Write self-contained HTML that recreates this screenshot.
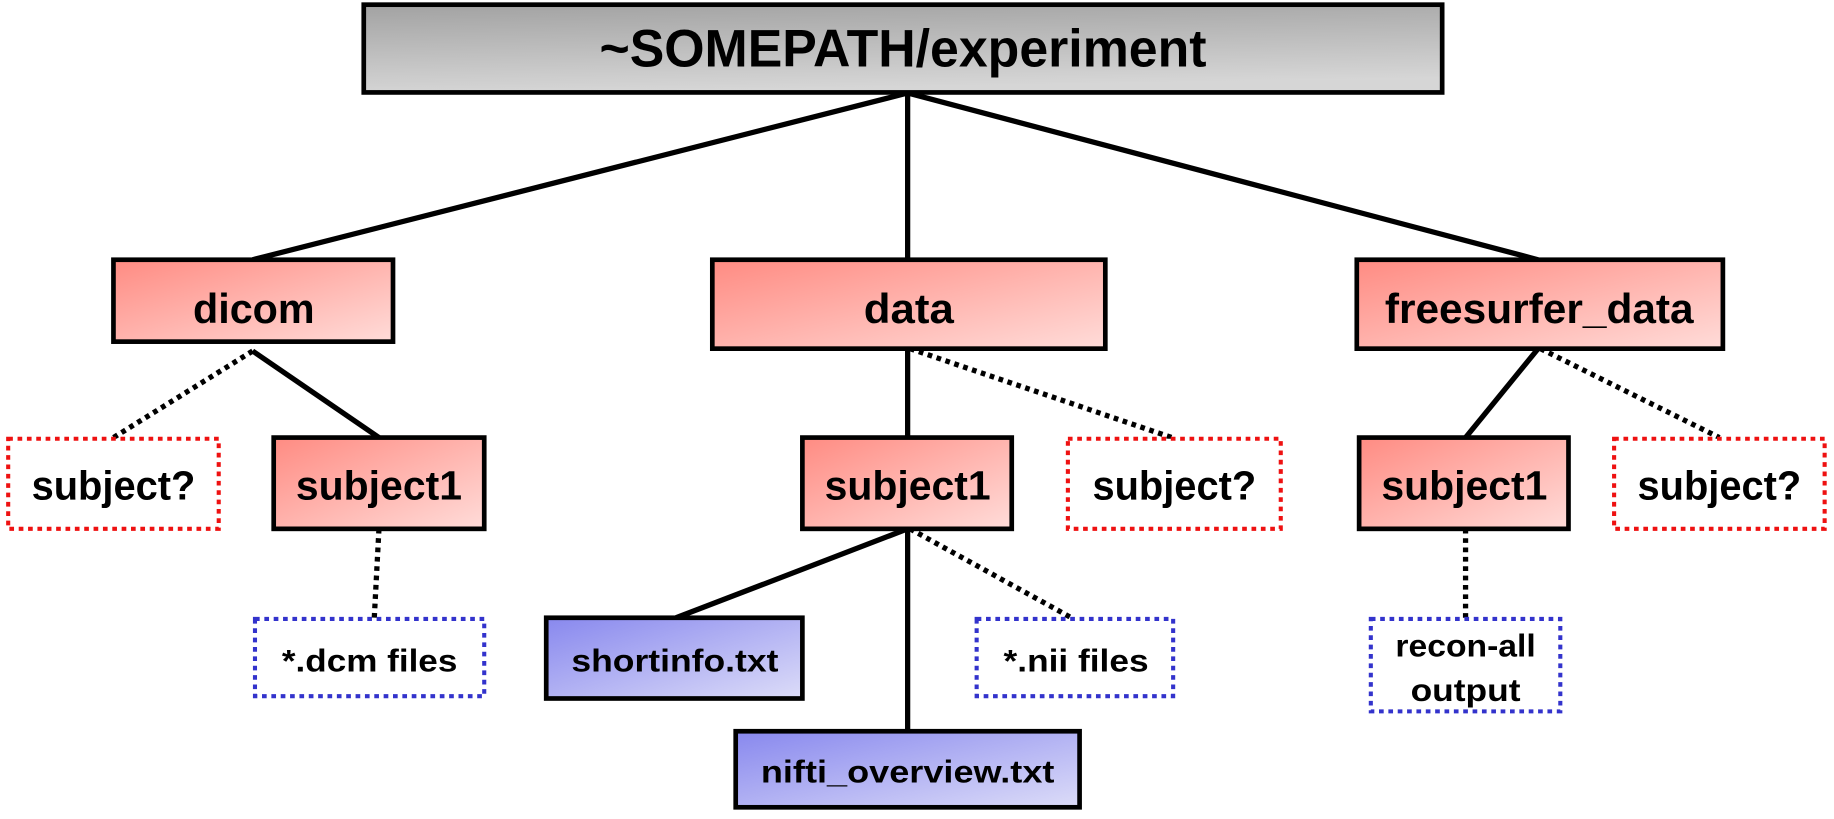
<!DOCTYPE html>
<html><head><meta charset="utf-8"><style>
html,body{margin:0;padding:0;background:#fff;}
svg{display:block;}
text{font-family:"Liberation Sans",sans-serif;font-weight:bold;fill:#000;}
</style></head><body>
<svg width="1834" height="819" viewBox="0 0 1568 700" preserveAspectRatio="none" xmlns="http://www.w3.org/2000/svg">
<defs>
<linearGradient id="gr" x1="0" y1="0" x2="1" y2="1"><stop offset="0" stop-color="#ff8b82"/><stop offset="1" stop-color="#ffdcd9"/></linearGradient>
<linearGradient id="gb" x1="0" y1="0" x2="1" y2="1"><stop offset="0" stop-color="#8888ee"/><stop offset="1" stop-color="#dcdcf8"/></linearGradient>
<linearGradient id="gg" x1="0" y1="0" x2="0.2" y2="1"><stop offset="0" stop-color="#a2a2a2"/><stop offset="1" stop-color="#d6d6d6"/></linearGradient>
</defs>
<g stroke="#000" stroke-width="4.5" fill="none">
<line x1="774" y1="80" x2="216" y2="222"/>
<line x1="776" y1="80" x2="776" y2="222"/>
<line x1="778" y1="80" x2="1315" y2="222"/>
<line x1="216" y1="300" x2="324" y2="374"/>
<line x1="776" y1="298" x2="776" y2="374"/>
<line x1="1315" y1="298" x2="1253" y2="374"/>
<line x1="776" y1="452" x2="578" y2="528"/>
<line x1="776" y1="452" x2="776" y2="625"/>
</g>
<g stroke="#000" stroke-width="4.5" fill="none" stroke-dasharray="4 4">
<line x1="216" y1="300" x2="97" y2="374"/>
<line x1="778" y1="298" x2="1002" y2="374"/>
<line x1="1317" y1="298" x2="1470" y2="374"/>
<line x1="324" y1="452" x2="320" y2="528"/>
<line x1="778" y1="452" x2="916" y2="528"/>
<line x1="1253" y1="452" x2="1253" y2="528"/>
</g>
<rect x="311" y="4" width="922" height="75" fill="url(#gg)" stroke="#000" stroke-width="4"/>
<text x="772" y="57" font-size="45" text-anchor="middle" textLength="519" lengthAdjust="spacingAndGlyphs">~SOMEPATH/experiment</text>

<g stroke="#000" stroke-width="4" fill="url(#gr)">
<rect x="97" y="222" width="239" height="70"/>
<rect x="609" y="222" width="336" height="76"/>
<rect x="1160" y="222" width="313" height="76"/>
<rect x="234" y="374" width="180" height="78"/>
<rect x="686" y="374" width="179" height="78"/>
<rect x="1162" y="374" width="179" height="78"/>
</g>
<g stroke="#000" stroke-width="4" fill="url(#gb)">
<rect x="467" y="528" width="219" height="69"/>
<rect x="629" y="625" width="294" height="65"/>
</g>
<g stroke="#ee1111" stroke-width="3.5" fill="#fff" stroke-dasharray="4 4">
<rect x="7" y="375" width="180" height="77"/>
<rect x="913" y="375" width="182" height="77"/>
<rect x="1380" y="375" width="180" height="77"/>
</g>
<g stroke="#3333cc" stroke-width="3.5" fill="#fff" stroke-dasharray="4 4">
<rect x="218" y="529" width="196" height="66"/>
<rect x="835" y="529" width="168" height="66"/>
<rect x="1172" y="529" width="162" height="79"/>
</g>

<text x="217" y="276" font-size="36" text-anchor="middle" textLength="104" lengthAdjust="spacingAndGlyphs">dicom</text>
<text x="777" y="276" font-size="36" text-anchor="middle" textLength="77" lengthAdjust="spacingAndGlyphs">data</text>
<text x="1316" y="276" font-size="36" text-anchor="middle" textLength="264" lengthAdjust="spacingAndGlyphs">freesurfer_data</text>

<text x="97" y="427" font-size="35" text-anchor="middle" textLength="140" lengthAdjust="spacingAndGlyphs">subject?</text>
<text x="324" y="427" font-size="35" text-anchor="middle" textLength="142" lengthAdjust="spacingAndGlyphs">subject1</text>
<text x="776" y="427" font-size="35" text-anchor="middle" textLength="142" lengthAdjust="spacingAndGlyphs">subject1</text>
<text x="1004" y="427" font-size="35" text-anchor="middle" textLength="140" lengthAdjust="spacingAndGlyphs">subject?</text>
<text x="1252" y="427" font-size="35" text-anchor="middle" textLength="142" lengthAdjust="spacingAndGlyphs">subject1</text>
<text x="1470" y="427" font-size="35" text-anchor="middle" textLength="140" lengthAdjust="spacingAndGlyphs">subject?</text>

<text x="316" y="574" font-size="27" text-anchor="middle" textLength="150" lengthAdjust="spacingAndGlyphs">*.dcm files</text>
<text x="577" y="574" font-size="27" text-anchor="middle" textLength="177" lengthAdjust="spacingAndGlyphs">shortinfo.txt</text>
<text x="920" y="574" font-size="27" text-anchor="middle" textLength="124" lengthAdjust="spacingAndGlyphs">*.nii files</text>
<text x="776" y="669" font-size="27" text-anchor="middle" textLength="251" lengthAdjust="spacingAndGlyphs">nifti_overview.txt</text>
<text x="1253" y="561" font-size="27" text-anchor="middle" textLength="120" lengthAdjust="spacingAndGlyphs">recon-all</text>
<text x="1253" y="599" font-size="27" text-anchor="middle" textLength="94" lengthAdjust="spacingAndGlyphs">output</text>
</svg>
</body></html>
